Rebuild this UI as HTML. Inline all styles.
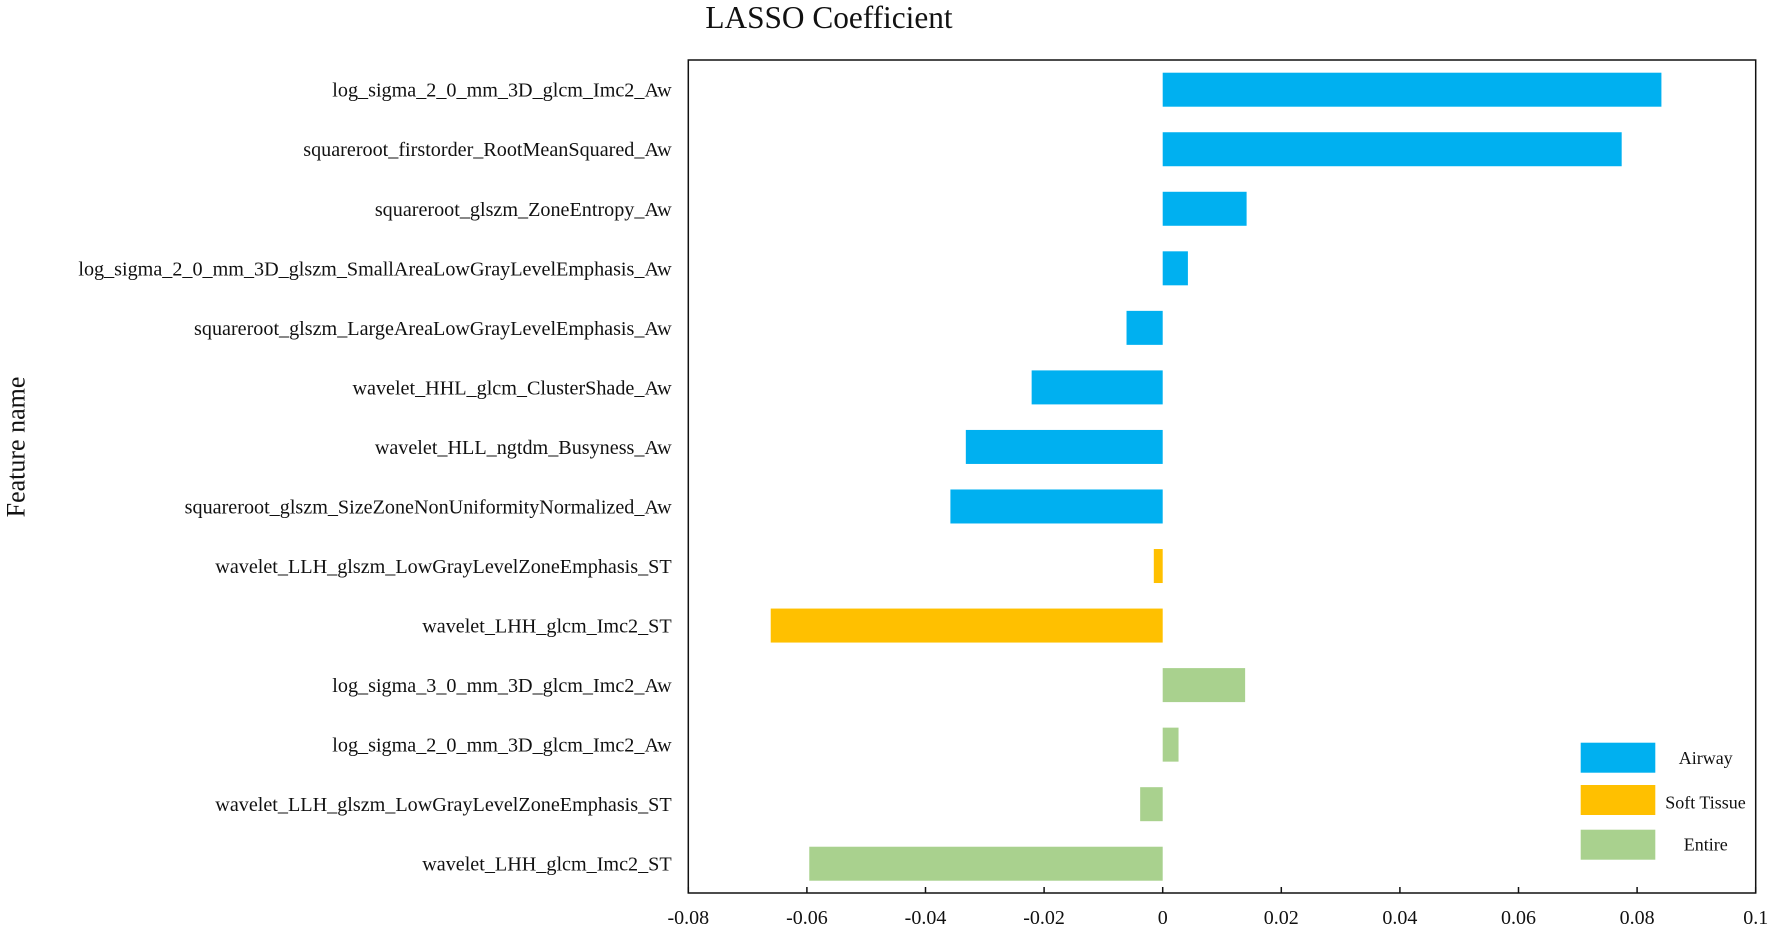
<!DOCTYPE html>
<html lang="en">
<head>
<meta charset="utf-8">
<title>LASSO Coefficient</title>
<style>
  html, body { margin: 0; padding: 0; background: #fff; }
  body { width: 1772px; height: 931px; overflow: hidden; }
  svg { display: block; }
  text { font-family: "Liberation Serif", "Times New Roman", serif; fill: #111; font-variant-ligatures: none; }
</style>
</head>
<body>
<svg id="chart" xmlns="http://www.w3.org/2000/svg" width="1772" height="931" viewBox="0 0 1772 931">
  <rect x="0" y="0" width="1772" height="931" fill="#ffffff"/>
  <text x="829" y="28" font-size="31.3" text-anchor="middle">LASSO Coefficient</text>
  <text x="0" y="0" font-size="26" text-anchor="middle" transform="translate(24.5 447) rotate(-90)">Feature name</text>
  <g id="bars"></g>
  <g id="y-labels"></g>
  <g id="x-axis"></g>
  <rect x="688.3" y="60" width="1067.4" height="833" fill="none" stroke="#111" stroke-width="1.5"/>
  <g>
    <g>
      <rect x="1580.7" y="742.7" width="74.6" height="30" fill="#00B0F0"/>
      <text x="1705.7" y="764" font-size="18" text-anchor="middle">Airway</text>
    </g>
    <g>
      <rect x="1580.7" y="785" width="74.6" height="30" fill="#FFC000"/>
      <text x="1705.5" y="808.5" font-size="18" text-anchor="middle">Soft Tissue</text>
    </g>
    <g>
      <rect x="1580.7" y="829.7" width="74.6" height="30" fill="#A9D18E"/>
      <text x="1705.7" y="850.5" font-size="18" text-anchor="middle">Entire</text>
    </g>
  </g>
</svg>
<script>
const categories = [
  "log_sigma_2_0_mm_3D_glcm_Imc2_Aw",
  "squareroot_firstorder_RootMeanSquared_Aw",
  "squareroot_glszm_ZoneEntropy_Aw",
  "log_sigma_2_0_mm_3D_glszm_SmallAreaLowGrayLevelEmphasis_Aw",
  "squareroot_glszm_LargeAreaLowGrayLevelEmphasis_Aw",
  "wavelet_HHL_glcm_ClusterShade_Aw",
  "wavelet_HLL_ngtdm_Busyness_Aw",
  "squareroot_glszm_SizeZoneNonUniformityNormalized_Aw",
  "wavelet_LLH_glszm_LowGrayLevelZoneEmphasis_ST",
  "wavelet_LHH_glcm_Imc2_ST",
  "log_sigma_3_0_mm_3D_glcm_Imc2_Aw",
  "log_sigma_2_0_mm_3D_glcm_Imc2_Aw",
  "wavelet_LLH_glszm_LowGrayLevelZoneEmphasis_ST",
  "wavelet_LHH_glcm_Imc2_ST"
];
const coefficients = [0.0841, 0.0774, 0.01415, 0.00425, -0.0061, -0.0221, -0.0332, -0.0358, -0.0015, -0.0661, 0.0139, 0.00267, -0.0038, -0.0596];
const groups = ["Airway", "Airway", "Airway", "Airway", "Airway", "Airway", "Airway", "Airway", "Soft Tissue", "Soft Tissue", "Entire", "Entire", "Entire", "Entire"];
const tickValues = [-0.08, -0.06, -0.04, -0.02, 0, 0.02, 0.04, 0.06, 0.08, 0.1];
const tickLabels = ["-0.08", "-0.06", "-0.04", "-0.02", "0", "0.02", "0.04", "0.06", "0.08", "0.1"];
const groupColors = { "Airway": "#00B0F0", "Soft Tissue": "#FFC000", "Entire": "#A9D18E" };

const NS = "http://www.w3.org/2000/svg";
const plotLeft = 688.3, plotRight = 1755.7, plotBottom = 893;
const domainMin = -0.08, domainMax = 0.1;
const firstCenter = 89.7, rowPitch = 59.54, barHeight = 34;

function xScale(v) {
  return plotLeft + (v - domainMin) / (domainMax - domainMin) * (plotRight - plotLeft);
}
function yCenter(i) {
  return firstCenter + i * rowPitch;
}
function slug(s) {
  return s.toLowerCase().replace(/[^a-z0-9]+/g, '-');
}

const barsG = document.getElementById('bars');
const labelsG = document.getElementById('y-labels');
const axisG = document.getElementById('x-axis');

categories.forEach(function (name, i) {
  const v = coefficients[i];
  const x0 = xScale(0), x1 = xScale(v);
  const bar = document.createElementNS(NS, 'rect');
  
  
  bar.setAttribute('x', Math.min(x0, x1));
  bar.setAttribute('y', yCenter(i) - barHeight / 2);
  bar.setAttribute('width', Math.abs(x1 - x0));
  bar.setAttribute('height', barHeight);
  bar.setAttribute('fill', groupColors[groups[i]]);
  barsG.appendChild(bar);

  const label = document.createElementNS(NS, 'text');
  
  
  label.setAttribute('x', 671.7);
  label.setAttribute('y', yCenter(i) + 7);
  label.setAttribute('font-size', 20.15);
  label.setAttribute('text-anchor', 'end');
  label.textContent = name;
  labelsG.appendChild(label);
});

tickValues.forEach(function (t, i) {
  const x = xScale(t);
  const tick = document.createElementNS(NS, 'line');
  
  
  tick.setAttribute('x1', x);
  tick.setAttribute('x2', x);
  tick.setAttribute('y1', plotBottom);
  tick.setAttribute('y2', plotBottom - 6);
  tick.setAttribute('stroke', '#111');
  tick.setAttribute('stroke-width', 1.5);
  axisG.appendChild(tick);

  const txt = document.createElementNS(NS, 'text');
  
  
  txt.setAttribute('x', x);
  txt.setAttribute('y', 924);
  txt.setAttribute('font-size', 20);
  txt.setAttribute('text-anchor', 'middle');
  txt.textContent = tickLabels[i];
  axisG.appendChild(txt);
});
</script>
</body>
</html>
